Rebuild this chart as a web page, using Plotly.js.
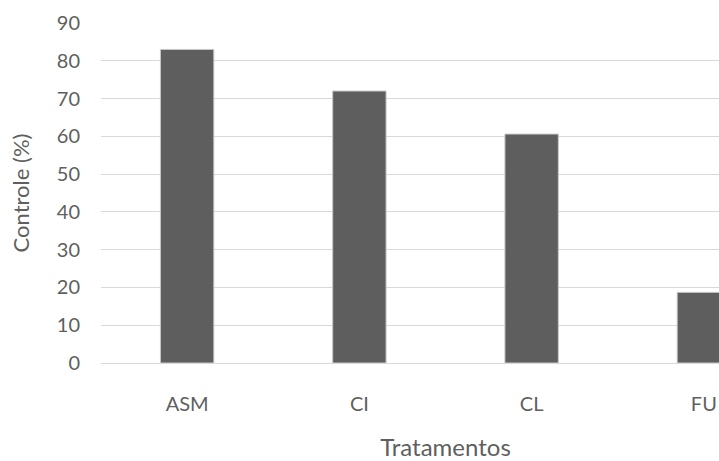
<!DOCTYPE html>
<html>
<head>
<meta charset="utf-8">
<script src="https://cdn.plot.ly/plotly-3.0.1.min.js"></script>
<style>
  html, body { margin: 0; padding: 0; background: #ffffff; overflow: hidden; width: 719px; height: 461px; }
  #chart { width: 790px; height: 461px; }
</style>
</head>
<body>
<div id="chart"></div>
<script>
// Treatments and their control efficiency (%)
const tratamentos = ['ASM', 'CI', 'CL', 'FU'];
const controle = [83, 72, 60.6, 18.7];
const yTicks = [0, 10, 20, 30, 40, 50, 60, 70, 80, 90];

const textColor = '#5f5f5f';
const fontFamily = 'Lato, "Open Sans", sans-serif';

const trace = {
  type: 'bar',
  x: tratamentos,
  y: controle,
  marker: {
    color: '#5e5e5e',
    line: { color: '#c8c8c8', width: 1 }
  },
  hoverinfo: 'x+y'
};

// The chart is wider than the window; its right end runs past the visible edge.
const layout = {
  width: 790,
  height: 461,
  margin: { l: 101, r: 0, t: 22.7, b: 97.7 },
  paper_bgcolor: '#ffffff',
  plot_bgcolor: '#ffffff',
  showlegend: false,
  bargap: 0.69,
  font: { family: fontFamily, size: 20, color: textColor },
  xaxis: {
    type: 'category',
    range: [-0.5, 3.5],
    showgrid: false,
    showline: false,
    zeroline: false,
    ticks: '',
    ticklabelstandoff: 27,
    tickfont: { family: fontFamily, size: 20, color: textColor },
    title: {
      text: 'Tratamentos',
      font: { family: fontFamily, size: 24, color: textColor },
      standoff: 32
    },
    automargin: false,
    fixedrange: true
  },
  yaxis: {
    range: [0, 90],
    tickvals: yTicks,
    ticktext: yTicks.map(String),
    showgrid: true,
    gridcolor: '#d9d9d9',
    gridwidth: 1,
    zeroline: true,
    zerolinecolor: '#d9d9d9',
    zerolinewidth: 1,
    showline: false,
    ticks: '',
    ticklabelstandoff: 20,
    tickfont: { family: fontFamily, size: 20, color: textColor },
    title: {
      text: 'Controle (%)',
      font: { family: fontFamily, size: 22, color: textColor },
      standoff: 21
    },
    automargin: false,
    fixedrange: true
  }
};

Plotly.newPlot('chart', [trace], layout, { staticPlot: true, displayModeBar: false });
</script>
</body>
</html>
